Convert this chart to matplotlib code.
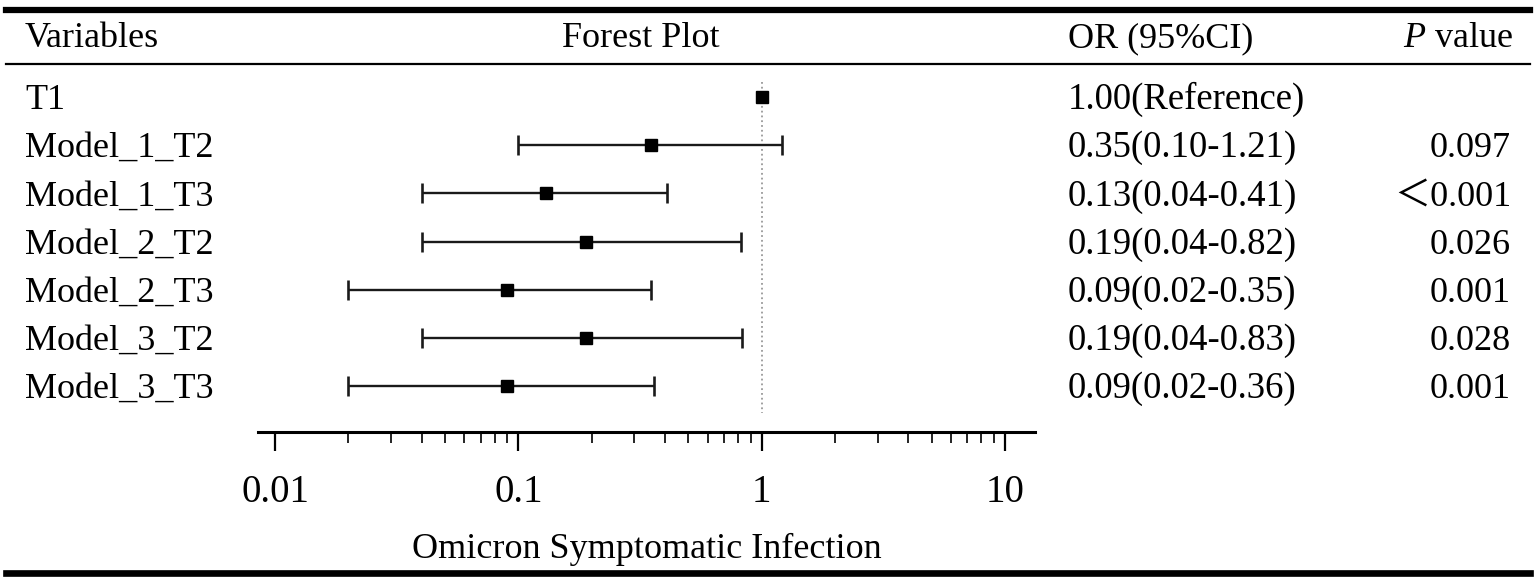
import numpy as np
import matplotlib.pyplot as plt
import matplotlib.transforms as mtransforms
from matplotlib.lines import Line2D
from matplotlib.ticker import NullFormatter, FixedFormatter, FixedLocator

plt.rcParams['font.family'] = ['Liberation Serif', 'Noto Sans CJK SC']
plt.rcParams['mathtext.fontset'] = 'custom'
plt.rcParams['mathtext.rm'] = 'Liberation Serif'
plt.rcParams['mathtext.it'] = 'Liberation Serif:italic'

labels = ['T1', 'Model_1_T2', 'Model_1_T3', 'Model_2_T2', 'Model_2_T3', 'Model_3_T2', 'Model_3_T3']
orValues = [1.00, 0.35, 0.13, 0.19, 0.09, 0.19, 0.09]
lowerCI = [np.nan, 0.10, 0.04, 0.04, 0.02, 0.04, 0.02]
upperCI = [np.nan, 1.21, 0.41, 0.82, 0.35, 0.83, 0.36]
orText = ['1.00(Reference)', '0.35(0.10-1.21)', '0.13(0.04-0.41)', '0.19(0.04-0.82)',
          '0.09(0.02-0.35)', '0.19(0.04-0.83)', '0.09(0.02-0.36)']
pText = ['', '0.097', '\uff1c0.001', '0.026', '0.001', '0.028', '0.001']
tickValues = [0.01, 0.1, 1, 10]
tickLabels = ['0.01', '0.1', '1', '10']

W, H = 1536, 583
fig = plt.figure(figsize=(W / 100, H / 100), dpi=100)

# forest axes placed in pixel terms: x 258..1035, y 68..432
axL, axR, axT, axB = 258, 1035, 68, 432
ax = fig.add_axes([axL / W, 1 - axB / H, (axR - axL) / W, (axB - axT) / H])
rowTop, rowStep = 97, 48.17
ax.set_ylim((axB - rowTop) / rowStep, (axT - rowTop) / rowStep)
ax.set_xscale('log')
ax.set_xlim(10 ** (-2 - 17 / 243), 10 ** (1 + 30 / 243))

for s in ['left', 'right', 'top']:
    ax.spines[s].set_visible(False)
ax.spines['bottom'].set_linewidth(2.2)
ax.set_yticks([])
ax.xaxis.set_major_locator(FixedLocator(tickValues))
ax.xaxis.set_major_formatter(FixedFormatter(tickLabels))
minorTicks = [m * d for d in [0.01, 0.1, 1] for m in range(2, 10)]
ax.xaxis.set_minor_locator(FixedLocator(minorTicks))
ax.xaxis.set_minor_formatter(NullFormatter())
ax.tick_params(axis='x', which='major', length=14, width=1.6, labelsize=28, pad=16, direction='out')
ax.tick_params(axis='x', which='minor', length=8, width=1.2, direction='out')
ax.set_xlabel('Omicron Symptomatic Infection', fontsize=26, labelpad=16)

y = np.arange(len(labels))
ax.vlines(1, -0.31, 6.56, colors='#999999', linestyles=':', linewidth=1.3)

orArr = np.array(orValues)
lo = orArr - np.array(lowerCI)
hi = np.array(upperCI) - orArr
ax.errorbar(orArr[1:], y[1:], xerr=[lo[1:], hi[1:]], fmt='none', ecolor='#1a1a1a',
            elinewidth=1.7, capsize=7, capthick=1.9)
ax.plot(orArr, y, 's', color='black', markersize=8.5)

# table text, x in figure pixels, y in row units
blend = mtransforms.blended_transform_factory(fig.transFigure, ax.transData)
baseOff = 0.25
for i in range(len(labels)):
    fig.text(25 / W, i + baseOff, labels[i], transform=blend, fontsize=26, va='baseline', ha='left')
    fig.text(1068 / W, i + baseOff, orText[i], transform=blend, fontsize=26.5, va='baseline', ha='left')
    fig.text(1511 / W, i + baseOff, pText[i], transform=blend, fontsize=26, va='baseline', ha='right')

headY = 1 - 47 / H
fig.text(25 / W, headY, 'Variables', fontsize=26, va='baseline', ha='left')
fig.text(641 / W, headY, 'Forest Plot', fontsize=26, va='baseline', ha='center')
fig.text(1068 / W, headY, 'OR (95%CI)', fontsize=26, va='baseline', ha='left')
fig.text(1513 / W, headY, r'$\mathit{P}$ value', fontsize=26, va='baseline', ha='right')

# table rules
fig.add_artist(Line2D([6 / W, 1530 / W], [1 - 10 / H, 1 - 10 / H], color='black', linewidth=4.5))
fig.add_artist(Line2D([6 / W, 1530 / W], [1 - 63.5 / H, 1 - 63.5 / H], color='black', linewidth=1.6))
fig.add_artist(Line2D([6 / W, 1530 / W], [1 - 573 / H, 1 - 573 / H], color='black', linewidth=4.8))

fig.savefig('out.png', dpi=100)
